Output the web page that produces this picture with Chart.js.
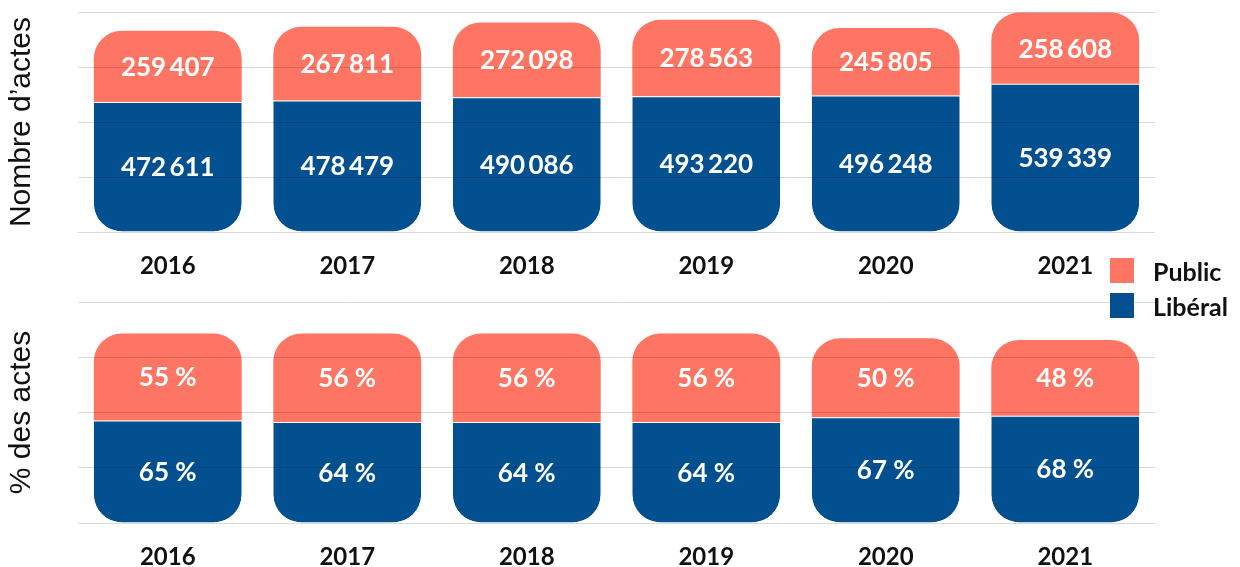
<!DOCTYPE html>
<html><head><meta charset="utf-8">
<script src="https://cdn.jsdelivr.net/npm/chart.js@4/dist/chart.umd.min.js"></script>
<style>
body{margin:0;background:#fff;width:1240px;height:567px;overflow:hidden;position:relative;font-family:Lato,sans-serif}
canvas{position:absolute;left:0}
#c1{top:0}
#c2{top:290px}
#legend{position:absolute;left:1110px;top:253px;z-index:2}
.item{display:flex;align-items:center;height:35px;font:bold 25px Lato,sans-serif;color:#111}
.sw{width:24px;height:25px;margin-right:19px}
</style></head><body>
<canvas id="c1" width="1240" height="290"></canvas>
<canvas id="c2" width="1240" height="277"></canvas>
<div id="legend"></div>
<script>
const years = ['2016','2017','2018','2019','2020','2021'];
const publicCount = [259407, 267811, 272098, 278563, 245805, 258608];
const liberalCount = [472611, 478479, 490086, 493220, 496248, 539339];
const publicPct = [55, 56, 56, 56, 50, 48];
const liberalPct = [65, 64, 64, 64, 67, 68];
const seriesNames = ['Public', 'Libéral'];
const countAxis = {min: 0, max: 800000, step: 200000};
const pctAxis = {min: 0, max: 140, step: 35};

const RED = '#FF7563', BLUE = '#02508F';

const fmtCount = v => String(v).replace(/\B(?=(\d{3})+(?!\d))/g, '\u2009');
const fmtPct = v => v + ' %';

const labelPlugin = {
  id: 'segLabels',
  afterDraw(chart, args, opts) {
    const ctx = chart.ctx;
    ctx.save();
    ctx.fillStyle = '#fff';
    ctx.font = 'bold 26px Lato, sans-serif';
    ctx.textAlign = 'center';
    ctx.textBaseline = 'middle';
    chart.data.datasets.forEach((ds, di) => {
      const meta = chart.getDatasetMeta(di);
      meta.data.forEach((el, i) => {
        const p = el.getProps(['x', 'y', 'base'], true);
        ctx.fillText(opts.fmt(ds.data[i]), p.x, (p.y + p.base) / 2 + 1);
      });
    });
    ctx.restore();
  }
};

function makeChart(id, pub, lib, axis, title, xHeight, fmt) {
  const R = 28;
  return new Chart(document.getElementById(id), {
    type: 'bar',
    data: {
      labels: years,
      datasets: [
        {label: seriesNames[1], data: lib, backgroundColor: BLUE,
         borderColor: '#ffffff', borderWidth: {top: 1, left: 0, right: 0, bottom: 0},
         borderSkipped: false,
         borderRadius: {topLeft: 0, topRight: 0, bottomLeft: R, bottomRight: R}},
        {label: seriesNames[0], data: pub, backgroundColor: RED,
         borderWidth: 0, borderSkipped: false,
         borderRadius: {topLeft: R, topRight: R, bottomLeft: 0, bottomRight: 0}}
      ]
    },
    options: {
      responsive: false,
      animation: false,
      devicePixelRatio: 1,
      layout: {padding: {top: 12, right: 85, left: 0, bottom: 0}},
      plugins: {legend: {display: false}, tooltip: {enabled: false}, segLabels: {fmt}},
      datasets: {bar: {categoryPercentage: 1, barPercentage: 0.824}},
      scales: {
        x: {
          stacked: true,
          grid: {display: false, drawTicks: false},
          border: {display: false},
          ticks: {color: '#111', font: {family: 'Lato', weight: 'bold', size: 24}, padding: 20, maxRotation: 0},
          afterFit: s => { s.height = xHeight; }
        },
        y: {
          stacked: true,
          min: axis.min, max: axis.max,
          ticks: {display: false, stepSize: axis.step},
          grid: {color: 'rgba(0,0,0,0.15)', lineWidth: 1, drawTicks: false, z: 1},
          border: {display: false},
          title: {display: true, text: title, color: '#111',
                  font: {family: 'Liberation Sans', size: 30, lineHeight: 1},
                  padding: {top: 7, bottom: 0}},
          afterFit: s => { s.width = 78; }
        }
      }
    },
    plugins: [labelPlugin]
  });
}

const c1 = makeChart('c1', publicCount, liberalCount, countAxis, "Nombre d\u2019actes", 58, fmtCount);
const c2 = makeChart('c2', publicPct, liberalPct, pctAxis, '% des actes', 44, fmtPct);

// legend built from the chart's datasets
const leg = document.getElementById('legend');
[...c1.data.datasets].reverse().forEach(ds => {
  const it = document.createElement('div');
  it.className = 'item';
  const sw = document.createElement('div');
  sw.className = 'sw';
  sw.style.background = ds.backgroundColor;
  const tx = document.createElement('span');
  tx.textContent = ds.label;
  it.appendChild(sw); it.appendChild(tx);
  leg.appendChild(it);
});
</script>
</body></html>
